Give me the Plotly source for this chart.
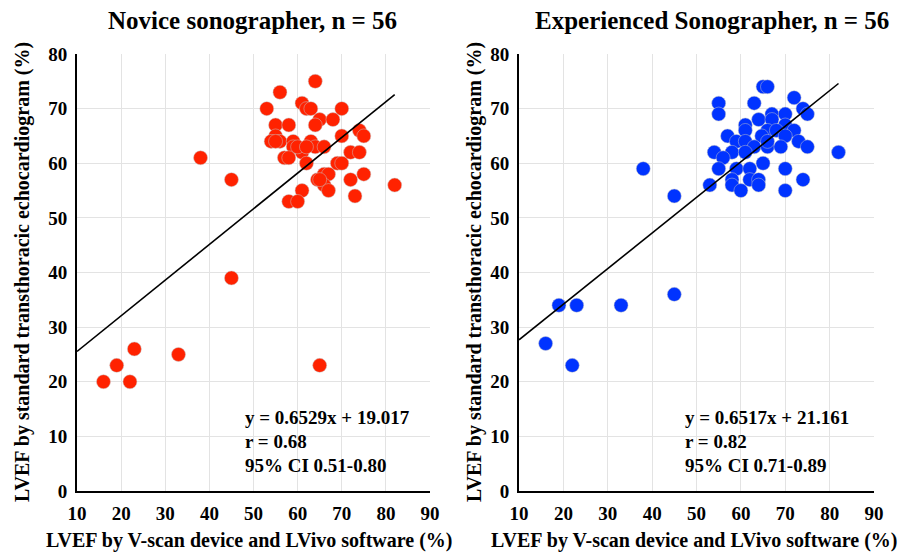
import plotly.graph_objects as go
import numpy as np

# ---- data ----
novice_x = [16, 19, 22, 23, 33, 45, 65, 38, 45,
            64, 56, 53, 61, 62, 63, 70,
            55, 58, 65, 64, 68,
            55, 54, 56, 59, 63, 70, 74, 75,
            59, 61, 64, 66, 57, 58, 72, 74,
            62, 69, 70,
            64.5, 66, 67, 66, 67, 72, 75, 82, 73,
            61, 58, 60,
            60, 55, 62, 65]
novice_y = [20, 23, 20, 26, 25, 39, 23, 61, 57,
            75, 73, 70, 71, 70, 70, 70,
            67, 67, 68, 67, 68,
            65, 64, 64, 64, 64, 65, 66, 65,
            63, 62, 63, 63, 61, 61, 62, 62,
            60, 60, 60,
            57, 58, 58, 56, 55, 57, 58, 56, 54,
            55, 53, 53,
            63, 64, 63, 57]

exp_x = [16, 19, 22, 23, 33, 45, 38, 45,
         65, 66, 72, 55, 63, 55, 74, 75, 67, 70,
         64, 67, 61, 61, 70, 66, 68, 72, 64.7, 70, 57,
         59, 61, 73, 63, 66, 69, 75, 54, 58, 61, 82,
         56, 65, 55, 59, 62, 70, 58, 62, 64, 74,
         53, 58, 64, 60, 70, 66]
exp_y = [27, 34, 23, 34, 34, 36, 59, 54,
         74, 74, 72, 71, 71, 69, 70, 69, 69, 69,
         68, 68, 67, 66, 67, 66, 66, 66, 65, 65, 65,
         64, 64, 64, 63, 63, 63, 63, 62, 62, 62, 62,
         61, 60, 59, 59, 59, 59, 57, 57, 57, 57,
         56, 56, 56, 55, 55, 64]

novice_fit = (0.6529, 19.017)
exp_fit = (0.6517, 21.161)

titles = ["Novice sonographer, n = 56", "Experienced Sonographer, n = 56"]
stats = [["y = 0.6529x + 19.017", "r = 0.68", "95% CI 0.51-0.80"],
         ["y = 0.6517x + 21.161", "r = 0.82", "95% CI 0.71-0.89"]]
x_ticks = [10, 20, 30, 40, 50, 60, 70, 80, 90]
y_ticks = [0, 10, 20, 30, 40, 50, 60, 70, 80]

W, H = 914, 552
FONT = "Liberation Serif"

fig = go.Figure()

panels = [
    dict(x=novice_x, y=novice_y, fit=novice_fit, color="#ff2200", xa="x", ya="y",
         dom=[77 / W, 430 / W]),
    dict(x=exp_x, y=exp_y, fit=exp_fit, color="#0033ff", xa="x2", ya="y2",
         dom=[519 / W, 874 / W]),
]

ydom = [1 - 491 / H, 1 - 54 / H]

for i, p in enumerate(panels):
    fig.add_trace(go.Scatter(
        x=p["x"], y=p["y"], mode="markers", xaxis=p["xa"], yaxis=p["ya"],
        marker=dict(size=14, color=p["color"],
                    line=dict(width=0.6, color="rgba(200,200,200,0.8)")),
        showlegend=False, hoverinfo="skip"))
    lx = np.array([10, max(p["x"])])
    ly = p["fit"][0] * lx + p["fit"][1]
    fig.add_trace(go.Scatter(
        x=lx, y=ly, mode="lines", xaxis=p["xa"], yaxis=p["ya"],
        line=dict(color="black", width=1.6), showlegend=False, hoverinfo="skip"))

axis_common = dict(showgrid=True, gridcolor="#e3e3e3", gridwidth=1,
                   zeroline=False, showline=True, linecolor="black", linewidth=2,
                   ticks="", automargin=False, ticklabelstandoff=4,
                   tickfont=dict(family=FONT, size=19, color="black", weight="bold"))

fig.update_layout(
    width=W, height=H,
    margin=dict(l=0, r=0, t=0, b=0, autoexpand=False),
    paper_bgcolor="white", plot_bgcolor="white",
    font=dict(family=FONT, color="black"),
    xaxis=dict(domain=panels[0]["dom"], range=[10, 90], tickvals=x_ticks,
               anchor="y", **axis_common),
    yaxis=dict(domain=ydom, range=[0, 80], tickvals=y_ticks, anchor="x",
               **axis_common),
    xaxis2=dict(domain=panels[1]["dom"], range=[10, 90], tickvals=x_ticks,
                anchor="y2", **axis_common),
    yaxis2=dict(domain=ydom, range=[0, 80], tickvals=y_ticks, anchor="x2",
                **axis_common),
)

ann = []
centers = [253 / W, 712 / W]
xt_centers = [249 / W, 694 / W]
ytitle_x = [22 / W, 474 / W]
stat_x = [243 / W, 683 / W]
for i in range(2):
    ann.append(dict(text="<b>%s</b>" % titles[i], x=centers[i], y=1 - 20 / H,
                    xref="paper", yref="paper", showarrow=False,
                    xanchor="center", yanchor="middle",
                    font=dict(family=FONT, size=25, color="black")))
    ann.append(dict(text="<b>LVEF by V-scan device and LVivo software (%)</b>",
                    x=xt_centers[i], y=1 - 540 / H, xref="paper", yref="paper",
                    xanchor="center", yanchor="middle",
                    showarrow=False, font=dict(family=FONT, size=20, color="black")))
    ann.append(dict(text="<b>LVEF by standard transthoracic echocardiogram (%)</b>",
                    x=ytitle_x[i], y=1 - 272 / H, xref="paper", yref="paper",
                    xanchor="center", yanchor="middle",
                    textangle=-90, showarrow=False,
                    font=dict(family=FONT, size=20, color="black")))
    for j, s in enumerate(stats[i]):
        ann.append(dict(text="<b>%s</b>" % s, x=stat_x[i], y=1 - (417 + 24 * j) / H,
                        xref="paper", yref="paper", xanchor="left", yanchor="middle",
                        showarrow=False,
                        font=dict(family=FONT, size=19, color="black")))
fig.update_layout(annotations=ann)

fig.write_html("out.html", config={"displayModeBar": False},
               post_script="document.body.style.margin='0';document.body.style.padding='0';")
